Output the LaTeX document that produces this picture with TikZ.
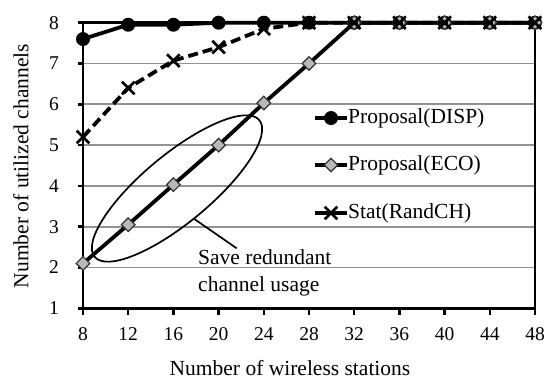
\documentclass[tikz,border=0pt]{standalone}
\usepackage{fontspec}
\setmainfont{Liberation Serif}
\begin{document}
\begin{tikzpicture}[x=1pt,y=-1pt,
  gridline/.style={draw=gray!85, line width=1.7pt},
  axisline/.style={draw=black, line width=2.5pt},
  dataline/.style={draw=black, line width=3.8pt},
  dashline/.style={draw=black, line width=3.8pt, dash pattern=on 10pt off 5pt},
  ticklab/.style={font=\fontsize{19.5}{22}\selectfont, inner sep=0pt},
  txt/.style={font=\fontsize{21.5}{27}\selectfont, inner sep=0pt},
  dotmark/.pic={\fill[black] (0,0) circle (7pt);},
  diamark/.pic={\filldraw[fill=gray!55, draw=black!80, line width=1.2pt] (-6.8pt,0) -- (0,6.8pt) -- (6.8pt,0) -- (0,-6.8pt) -- cycle;},
  xmark/.pic={\draw[black, line width=2.6pt] (-6.3pt,-6.3pt) -- (6.3pt,6.3pt) (-6.3pt,6.3pt) -- (6.3pt,-6.3pt);}
]
\useasboundingbox (0,0) rectangle (553,381);

% ---- plot in data coordinates ----
\begin{scope}[shift={(-7.4pt,-349.1pt)}, x=11.3pt, y=40.8pt]
  \foreach \w in {2,...,7} \draw[gridline] (8,\w) -- (48,\w);
  \draw[axisline] (8,1) rectangle (48,8);
  \foreach \v in {8,12,...,48} {
    \draw[axisline] (\v,1) -- ++(0,-7pt);
    \node[ticklab] (xl\v) at ([yshift=-26pt]\v,1) {\v};
  }
  \foreach \w in {1,...,8} {
    \draw[axisline] (8,\w) -- ++(-5pt,0);
    \node[ticklab] (yl\w) at ([xshift=-29pt]8,\w) {\w};
  }
  % DISP
  \draw[dataline] (8,7.6) -- (12,7.95) -- (16,7.95) -- (20,8) -- (24,8) -- (28,8) -- (48,8);
  \foreach \p in {(8,7.6),(12,7.95),(16,7.95),(20,8),(24,8),(28,8),(32,8),(36,8),(40,8),(44,8),(48,8)}
    \pic at \p {dotmark};
  % ECO
  \draw[dataline] (8,2.1) -- (12,3.05) -- (16,4.03) -- (20,5) -- (24,6.03) -- (28,7) -- (32,8) -- (48,8);
  \foreach \p in {(8,2.1),(12,3.05),(16,4.03),(20,5),(24,6.03),(28,7),(32,8),(36,8),(40,8),(44,8),(48,8)}
    \pic at \p {diamark};
  % RandCH
  \draw[dashline] (8,5.2) -- (12,6.4) -- (16,7.07) -- (20,7.4) -- (24,7.85) -- (28,8) -- (48,8);
  \foreach \p in {(8,5.2),(12,6.4),(16,7.07),(20,7.4),(24,7.85),(28,8),(32,8),(36,8),(40,8),(44,8),(48,8)}
    \pic at \p {xmark};
\end{scope}

% ---- axis titles ----
\node[txt, rotate=90] (ylab) at (21,166) {Number of utilized channels};
\node[txt] (xlab) at (290,368) {Number of wireless stations};

% ---- legend ----
\draw[line width=3.2pt] (315,118) -- (347,118);
\pic at (331,118) {dotmark};
\node[txt, anchor=west] (leg1) at (348,118) {Proposal(DISP)};
\draw[line width=3.2pt] (315,165) -- (347,165);
\pic at (331,165) {diamark};
\node[txt, anchor=west] (leg2) at (348,165) {Proposal(ECO)};
\draw[line width=3.2pt] (315,213) -- (347,213);
\pic at (331,213) {xmark};
\node[txt, anchor=west] (leg3) at (348,213) {Stat(RandCH)};

% ---- annotation ----
\draw[line width=1.7pt, rotate around={39.7:(177,188.5)}] (177,188.5) ellipse [x radius=107, y radius=34];
\coordinate (ellpt) at (193.3,218.3);
\node[txt, align=left, anchor=north west] (note) at (198,249) {Save redundant\\channel usage};
\coordinate (noteend) at (236.7,248.3);
\draw[line width=1.7pt] (ellpt) -- (noteend);
\end{tikzpicture}
\end{document}
